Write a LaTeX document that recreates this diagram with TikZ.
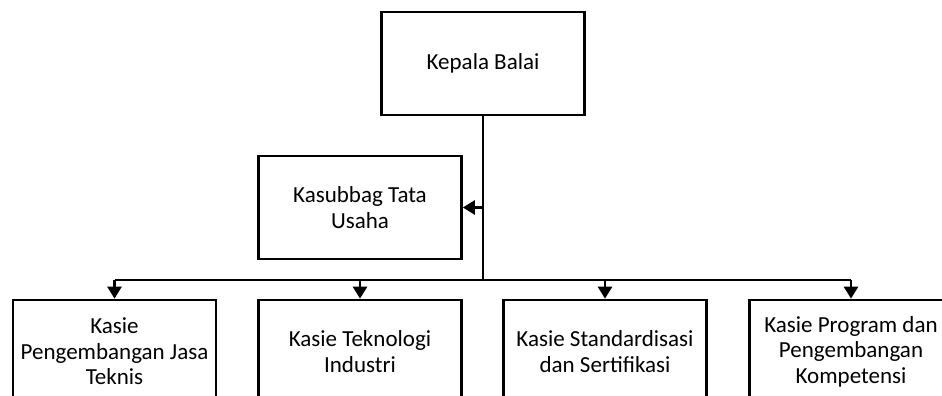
\documentclass[tikz,border=0pt]{standalone}
\usepackage{fontspec}
\setmainfont{Carlito}
\usetikzlibrary{arrows.meta}
\tikzset{
  unit/.style={draw, line width=2.7pt, minimum width=203pt, minimum height=103pt,
    inner sep=0pt, align=center, font=\fontsize{23}{25.5}\selectfont},
  link/.style={line width=2.7pt},
  arrow/.style={line width=2.7pt, -{Triangle[length=12pt,width=14pt]}}
}
\begin{document}
\begin{tikzpicture}[x=1pt,y=-1pt]
      \useasboundingbox (0,0) rectangle (942,396);
      \clip (0,0) rectangle (942,396);
      \draw
        (483,63.5) node[unit] (kepala){Kepala Balai}
        (360,207.5) node[unit] (kasubbag){Kasubbag Tata\\Usaha}
        (114.5,351.5) node[unit] (pjt){Kasie\\Pengembangan Jasa\\Teknis}
        (360,351.5) node[unit] (ti){Kasie Teknologi\\Industri}
        (605,351.5) node[unit] (ss){Kasie Standardisasi\\dan Sertifikasi}
        (851,351.5) node[unit] (ppk){Kasie Program dan\\Pengembangan\\Kompetensi};
      \coordinate (tap) at (kepala.south |- kasubbag.east);
      \coordinate (bus) at (483,280);
      \begin{scope}[link]
        \draw (kepala.south) to (bus);
        \draw (pjt.north |- bus) to (ppk.north |- bus);
        \draw[arrow] (tap) to (kasubbag.east);
        \draw[arrow] (pjt.north |- bus) to (pjt.north);
        \draw[arrow] (ti.north |- bus) to (ti.north);
        \draw[arrow] (ss.north |- bus) to (ss.north);
        \draw[arrow] (ppk.north |- bus) to (ppk.north);
      \end{scope}
    \end{tikzpicture}
\end{document}
